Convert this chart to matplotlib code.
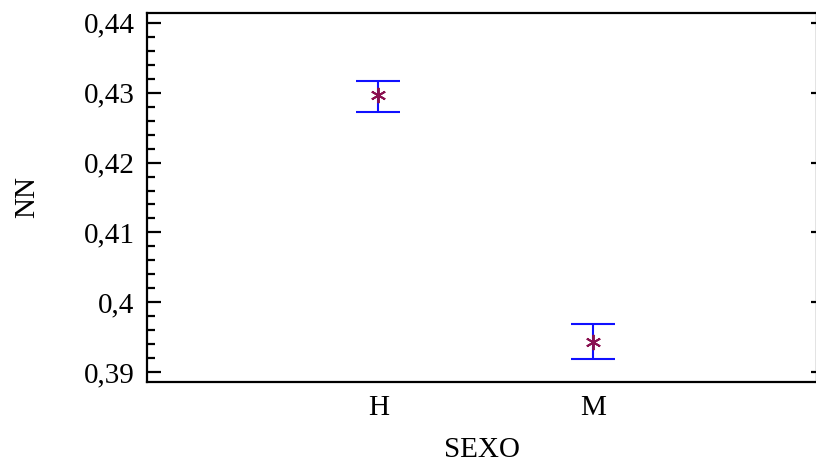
import matplotlib
matplotlib.use("Agg")
import matplotlib.pyplot as plt
from matplotlib.ticker import MultipleLocator, FuncFormatter

# Means and interval limits of NN by SEXO
categories = ["H", "M"]
means = [0.4297, 0.3944]
lower = [0.4273, 0.3919]
upper = [0.4317, 0.3969]

plt.rcParams["font.family"] = ["Liberation Serif", "DejaVu Serif"]

fig = plt.figure(figsize=(8.16, 4.70), dpi=100)
ax = fig.add_axes([147 / 816, 1 - 382.3 / 470, (817 - 147) / 816, (382.3 - 12.5) / 470])

xs = list(range(1, len(categories) + 1))
yerr = [[m - lo for m, lo in zip(means, lower)], [up - m for m, up in zip(means, upper)]]
ax.errorbar(xs, means, yerr=yerr, fmt="none", ecolor="#1010ff", elinewidth=1.5,
            capsize=15.5, capthick=1.5, zorder=2)
ax.plot(xs, means, linestyle="none", marker=(6, 2, 0), markersize=11,
        markeredgecolor="#8a1050", markeredgewidth=1.4, zorder=3)

ax.set_xlim(-0.079, 3.046)
ax.set_ylim(0.38857, 0.44146)
ax.set_xticks(xs)
ax.set_xticklabels(categories)
ax.yaxis.set_major_locator(MultipleLocator(0.01))
ax.yaxis.set_minor_locator(MultipleLocator(0.002))

def comma_fmt(v, pos):
    s = f"{v:.2f}".rstrip("0").rstrip(".")
    return s.replace(".", ",")

ax.yaxis.set_major_formatter(FuncFormatter(comma_fmt))

for sp in ax.spines.values():
    sp.set_linewidth(1.6)

FS = 21
ax.tick_params(axis="y", which="major", direction="in", length=10, width=1.6,
               labelsize=FS, pad=9, left=True, right=False)
ax.tick_params(axis="y", which="minor", direction="in", length=6, width=1.6,
               left=True, right=False)
ax.tick_params(axis="x", which="both", length=0, labelsize=FS, pad=9.5)

# short inward ticks on the right spine at the major positions
rax = ax.secondary_yaxis("right")
rax.yaxis.set_major_locator(MultipleLocator(0.01))
rax.tick_params(axis="y", which="major", direction="in", length=4, width=1.6,
                labelright=False)
rax.tick_params(axis="y", which="minor", length=0)
rax.spines["right"].set_linewidth(1.6)

ax.set_xlabel("SEXO", fontsize=FS, labelpad=11)
ax.set_ylabel("NN", fontsize=FS, labelpad=31)

fig.savefig("out.png", dpi=100)
